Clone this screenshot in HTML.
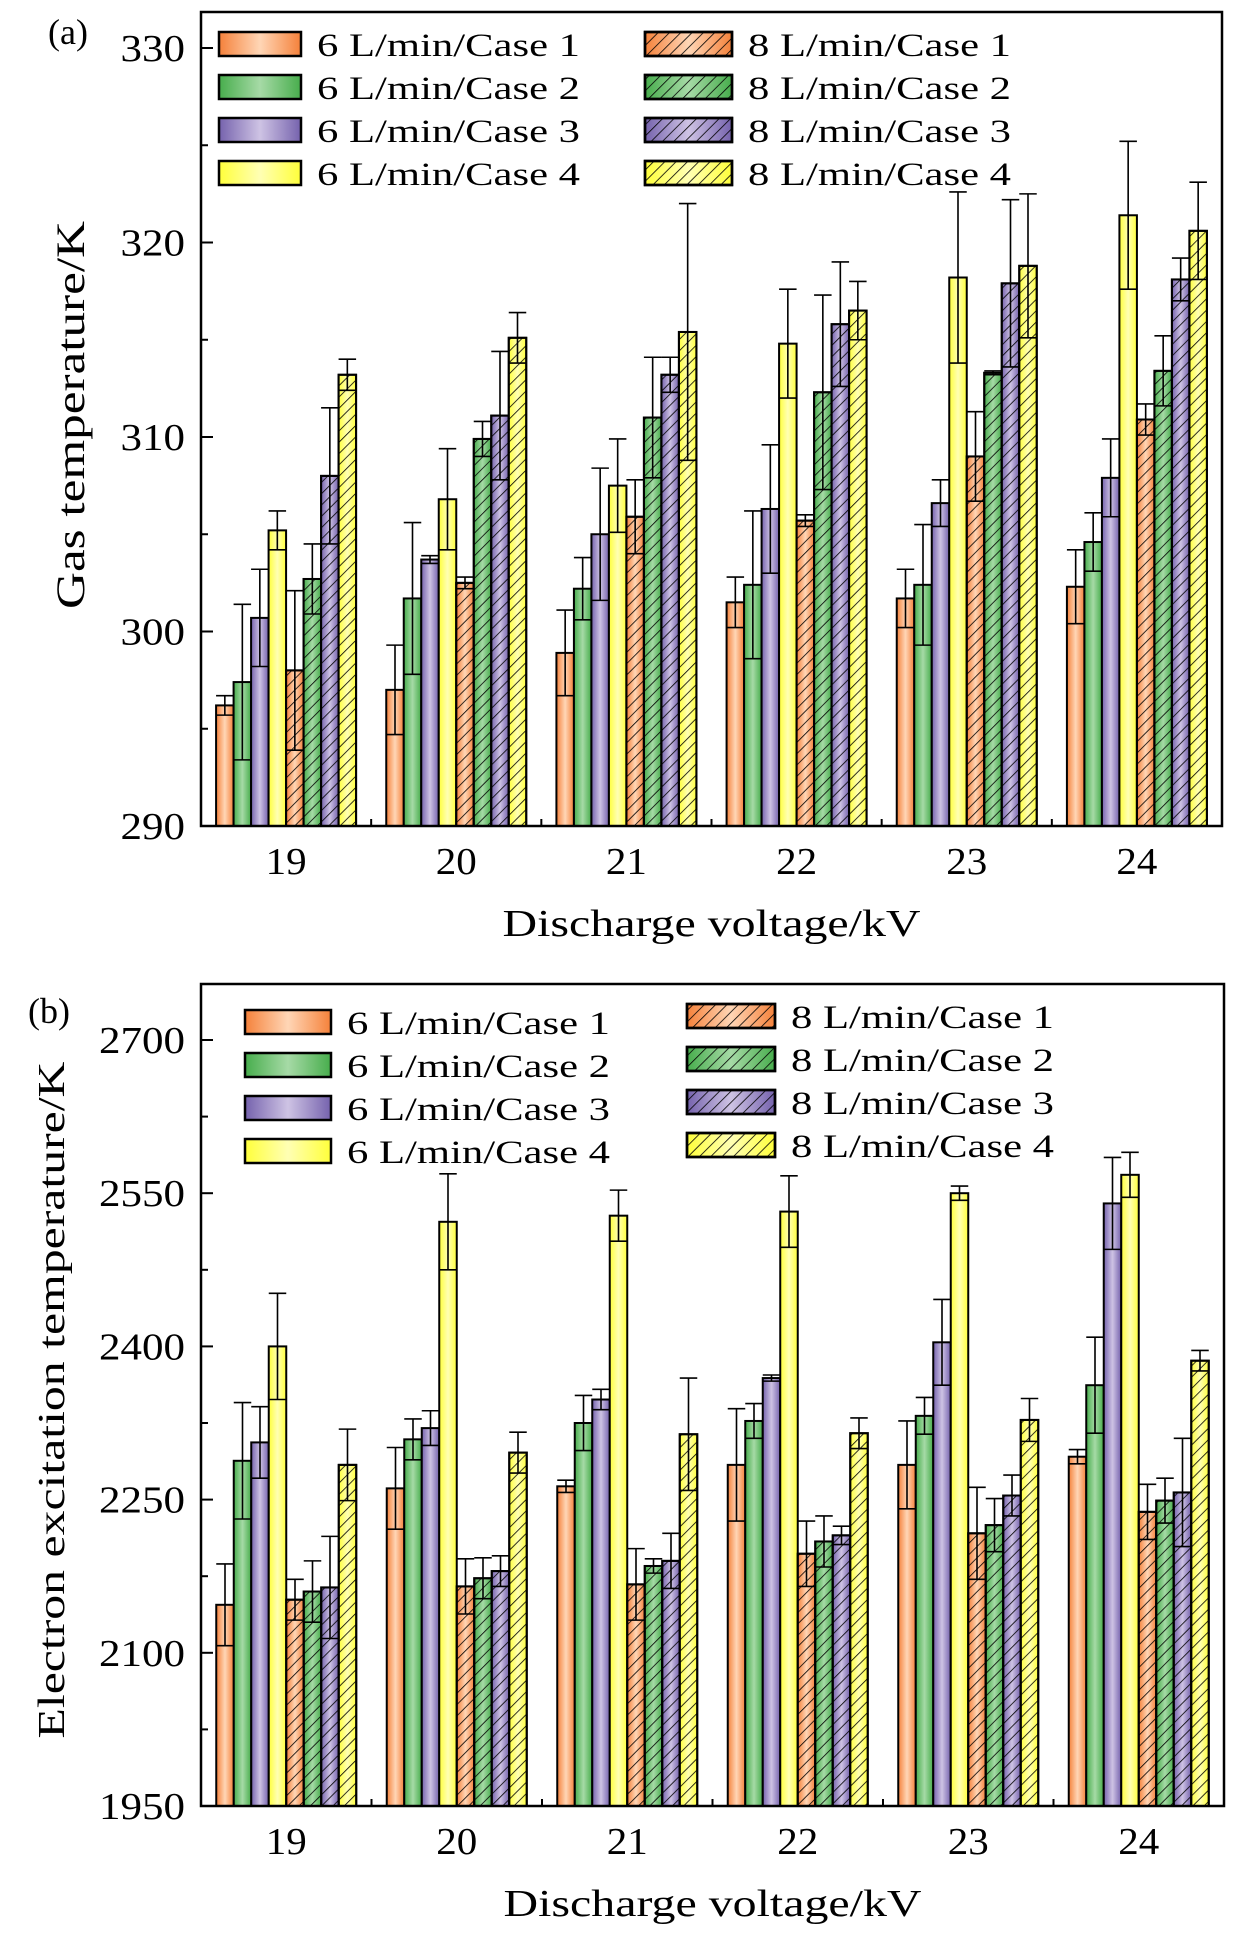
<!DOCTYPE html>
<html><head><meta charset="utf-8"><style>
html,body{margin:0;padding:0;background:#fff;}
svg{display:block;font-family:"Liberation Serif",serif;}
</style></head><body>
<svg id="s" width="1260" height="1937" viewBox="0 0 1260 1937" xmlns="http://www.w3.org/2000/svg">
<defs>
<linearGradient id="g0" x1="0" x2="1" y1="0" y2="0"><stop offset="0" stop-color="#f5813a"/><stop offset="0.5" stop-color="#ffd6b6"/><stop offset="1" stop-color="#f5813a"/></linearGradient>
<linearGradient id="g1" x1="0" x2="1" y1="0" y2="0"><stop offset="0" stop-color="#47ad4c"/><stop offset="0.5" stop-color="#a6daa6"/><stop offset="1" stop-color="#47ad4c"/></linearGradient>
<linearGradient id="g2" x1="0" x2="1" y1="0" y2="0"><stop offset="0" stop-color="#7562ad"/><stop offset="0.5" stop-color="#cec3e4"/><stop offset="1" stop-color="#7562ad"/></linearGradient>
<linearGradient id="g3" x1="0" x2="1" y1="0" y2="0"><stop offset="0" stop-color="#ffff3a"/><stop offset="0.5" stop-color="#ffffb4"/><stop offset="1" stop-color="#ffff3a"/></linearGradient>
<pattern id="hatch" width="8" height="8" patternUnits="userSpaceOnUse" patternTransform="rotate(45)"><line x1="0" y1="0" x2="0" y2="8" stroke="#000" stroke-width="1.6"/></pattern>
</defs>
<g id="pa"></g><g id="pb"></g>
</svg>
<script>
const categories = ["19","20","21","22","23","24"];
const seriesNames = ["6 L/min/Case 1","6 L/min/Case 2","6 L/min/Case 3","6 L/min/Case 4","8 L/min/Case 1","8 L/min/Case 2","8 L/min/Case 3","8 L/min/Case 4"];
// panel a: gas temperature, [series][category]
const gasVals = [
 [296.2,297.0,298.9,301.5,301.7,302.3],
 [297.4,301.7,302.2,302.4,302.4,304.6],
 [300.7,303.7,305.0,306.3,306.6,307.9],
 [305.2,306.8,307.5,314.8,318.2,321.4],
 [298.0,302.5,305.9,305.7,309.0,310.9],
 [302.7,309.9,311.0,312.3,313.3,313.4],
 [308.0,311.1,313.2,315.8,317.9,318.1],
 [313.2,315.1,315.4,316.5,318.8,320.6]];
const gasErr = [
 [0.5,2.3,2.2,1.3,1.5,1.9],
 [4.0,3.9,1.6,3.8,3.1,1.5],
 [2.5,0.2,3.4,3.3,1.2,2.0],
 [1.0,2.6,2.4,2.8,4.4,3.8],
 [4.1,0.3,1.9,0.3,2.3,0.8],
 [1.8,0.9,3.1,5.0,0.1,1.8],
 [3.5,3.3,0.9,3.2,4.3,1.1],
 [0.8,1.3,6.6,1.5,3.7,2.5]];
const gasTicks = [290,300,310,320,330];
// panel b: electron excitation temperature
const exVals = [
 [2147,2261,2263,2284,2284,2292],
 [2288,2309,2325,2327,2332,2362],
 [2306,2320,2348,2369,2404,2540],
 [2400,2522,2528,2532,2550,2568],
 [2152,2165,2167,2197,2217,2238],
 [2160,2173,2185,2209,2225,2249],
 [2164,2180,2190,2215,2254,2257],
 [2284,2296,2314,2315,2328,2386]];
const exErr = [
 [40,40,6,55,43,7],
 [57,20,27,17,18,47],
 [35,17,10,3,42,45],
 [52,47,25,35,7,22],
 [20,27,35,32,45,27],
 [30,20,7,25,26,22],
 [50,15,27,9,20,53],
 [35,20,55,15,21,10]];
const exTicks = [1950,2100,2250,2400,2550,2700];

const NS="http://www.w3.org/2000/svg";
function mk(parent,tag,attrs,text){const e=document.createElementNS(NS,tag);for(const k in attrs)e.setAttribute(k,attrs[k]);if(text!==undefined)e.textContent=text;parent.appendChild(e);return e;}

function panel(gid,cfg){
 const g=document.getElementById(gid);
 const L=cfg.L,R=cfg.R,T=cfg.T,B=cfg.B;
 const y=v=>B-(v-cfg.min)/(cfg.max-cfg.min)*(B-cfg.maxY);
 const band=(R-L)/categories.length;
 const bw=17.5;
 const x=(ci,si)=>L+band*(ci+0.5)-4*bw+si*bw;
 for(let si=0;si<8;si++){
  for(let ci=0;ci<categories.length;ci++){
   const v=cfg.vals[si][ci], e=cfg.err[si][ci];
   const x0=x(ci,si), yt=y(v);
   const r=mk(g,'rect',{x:x0,y:yt,width:bw,height:B-yt,fill:`url(#g${si%4})`,stroke:'#000','stroke-width':2});
   
   
   if(si>=4){const h=mk(g,'rect',{x:x0,y:yt,width:bw,height:B-yt,fill:'url(#hatch)',stroke:'#000','stroke-width':2});
    
    }
   const cx=x0+bw/2, y1=y(v+e), y2=y(v-e);
   const eb=mk(g,'path',{d:`M${cx},${y2}V${y1}M${cx-bw/2},${y1}H${cx+bw/2}M${cx-bw/2},${y2}H${cx+bw/2}`,stroke:'#000','stroke-width':1.6,fill:'none'});
   
   
  }
 }
 const fr=mk(g,'rect',{x:L,y:T,width:R-L,height:B-T,fill:'none',stroke:'#000','stroke-width':2.5});
 
 
 const ticks=cfg.ticks;
 for(let i=0;i<ticks.length;i++){
  const ty=y(ticks[i]);
  mk(g,'line',{x1:L,x2:L+12,y1:ty,y2:ty,stroke:'#000','stroke-width':2});
  if(i<ticks.length-1){const my=y((ticks[i]+ticks[i+1])/2);mk(g,'line',{x1:L,x2:L+7,y1:my,y2:my,stroke:'#000','stroke-width':2});}
  const s=String(ticks[i]);
  const t=mk(g,'text',{x:L-16,y:ty+13,'text-anchor':'end','font-size':38,textLength:s.length*21.5,lengthAdjust:'spacingAndGlyphs'},s);
  
  
 }
 for(let ci=0;ci<categories.length;ci++){
  const cx=L+band*(ci+0.5);
  if(ci>0)mk(g,'line',{x1:L+band*ci,x2:L+band*ci,y1:B,y2:B-7,stroke:'#000','stroke-width':2});
  const t=mk(g,'text',{x:cx,y:B+48,'text-anchor':'middle','font-size':38,textLength:41,lengthAdjust:'spacingAndGlyphs'},categories[ci]);
  
  
 }
 const xt=mk(g,'text',{x:(L+R)/2,y:B+110,'text-anchor':'middle','font-size':38,textLength:418,lengthAdjust:'spacingAndGlyphs'},'Discharge voltage/kV');
 
 
 const yt=mk(g,'text',{x:0,y:0,'text-anchor':'middle','font-size':cfg.ytfs,textLength:cfg.ytlen,lengthAdjust:'spacingAndGlyphs',transform:`translate(${cfg.ytx},${cfg.ytc}) rotate(-90)`},cfg.ytitle);
 
 
 const pl=mk(g,'text',{x:cfg.plx,y:cfg.ply,'font-size':36},cfg.plabel);
 
 
 for(let si=0;si<8;si++){
  const col=si<4?0:1, row=si%4;
  const lx=cfg.leg[col].x, ly=cfg.leg[col].y+row*cfg.leg[col].dy;
  const bwid=cfg.leg[col].w;
  const lg=mk(g,'g',{});
  
  
  mk(lg,'rect',{x:lx,y:ly-12,width:bwid,height:24,fill:`url(#g${si%4})`,stroke:'#000','stroke-width':2.5});
  if(si>=4)mk(lg,'rect',{x:lx,y:ly-12,width:bwid,height:24,fill:'url(#hatch)',stroke:'#000','stroke-width':2.5});
  mk(lg,'text',{x:lx+bwid+16,y:ly+12,'font-size':33,textLength:263,lengthAdjust:'spacingAndGlyphs'},seriesNames[si]);
 }
}
panel('pa',{L:201,R:1222,T:12,B:826,maxY:48,min:290,max:330,vals:gasVals,err:gasErr,ticks:gasTicks,
 ytitle:'Gas temperature/K',ytx:84,ytc:415,ytlen:388,ytfs:40,plabel:'(a)',plx:48,ply:44,
 leg:[{x:219,y:44,dy:43,w:82},{x:645,y:44,dy:43,w:87}]});
panel('pb',{L:201,R:1224,T:984,B:1806,maxY:1040,min:1950,max:2700,vals:exVals,err:exErr,ticks:exTicks,
 ytitle:'Electron excitation temperature/K',ytx:64,ytc:1400,ytlen:677,ytfs:38,plabel:'(b)',plx:28,ply:1023,
 leg:[{x:245,y:1022,dy:43,w:86},{x:687,y:1016,dy:43,w:88}]});
</script>
</body></html>
